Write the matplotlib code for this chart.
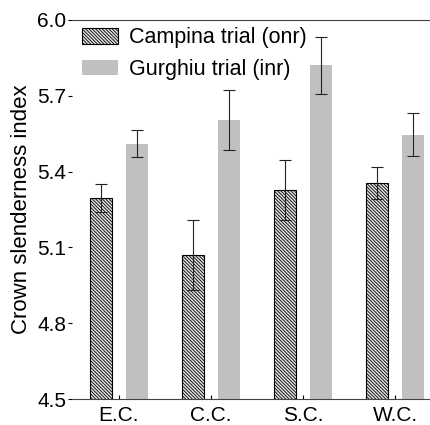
import numpy as np
import matplotlib.pyplot as plt

# data
groups = ["E.C.", "C.C.", "S.C.", "W.C."]
campina = [5.297, 5.069, 5.327, 5.354]
campina_err = [0.055, 0.138, 0.117, 0.063]
gurghiu = [5.51, 5.604, 5.82, 5.545]
gurghiu_err = [0.053, 0.12, 0.112, 0.085]

plt.rcParams['font.family'] = ['Liberation Sans', 'DejaVu Sans']
plt.rcParams['hatch.linewidth'] = 0.6
plt.rcParams['hatch.color'] = '#5a5a5a'

fig = plt.figure(figsize=(4.31, 4.25), dpi=100)
ax = fig.add_axes([0.167, 0.061, 0.833, 0.892])

x = np.arange(len(groups))
w = 0.24
off = 0.196
ebar = dict(ecolor='#222222', elinewidth=0.8, capsize=4, capthick=0.8)

ax.bar(x - off, campina, w, color='#e0e0e0', edgecolor='black',
       linewidth=0.8, hatch='\\' * 10, label='Campina trial (onr)',
       yerr=campina_err, error_kw=ebar)
ax.bar(x + off, gurghiu, w, color='#c0c0c0', edgecolor='none',
       label='Gurghiu trial (inr)',
       yerr=gurghiu_err, error_kw=ebar)

ax.set_ylim(4.5, 6.0)
ax.set_xlim(-0.51, 3.39)
ax.set_yticks([4.5, 4.8, 5.1, 5.4, 5.7, 6.0])
ax.set_yticklabels(['4.5', '4.8', '5.1', '5.4', '5.7', '6.0'])
ax.set_xticks(x)
ax.set_xticklabels(groups)
ax.tick_params(axis='y', direction='out', length=3, labelsize=15, width=0.8, pad=1)
ax.tick_params(axis='x', direction='in', length=3, labelsize=15, width=0.8, pad=5)

ax.spines['left'].set_visible(False)
ax.spines['right'].set_visible(False)
ax.spines['top'].set_color('#444444')
ax.spines['bottom'].set_color('#444444')

ax.set_ylabel('Crown slenderness index', fontsize=16, labelpad=4)

leg = ax.legend(loc='upper left', bbox_to_anchor=(0.014, 0.995), frameon=False,
                fontsize=15.5, handlelength=1.65, handleheight=0.75,
                borderaxespad=0.0, labelspacing=0.5, handletextpad=0.5,
                borderpad=0.25)

fig.savefig('out.png', dpi=100)
